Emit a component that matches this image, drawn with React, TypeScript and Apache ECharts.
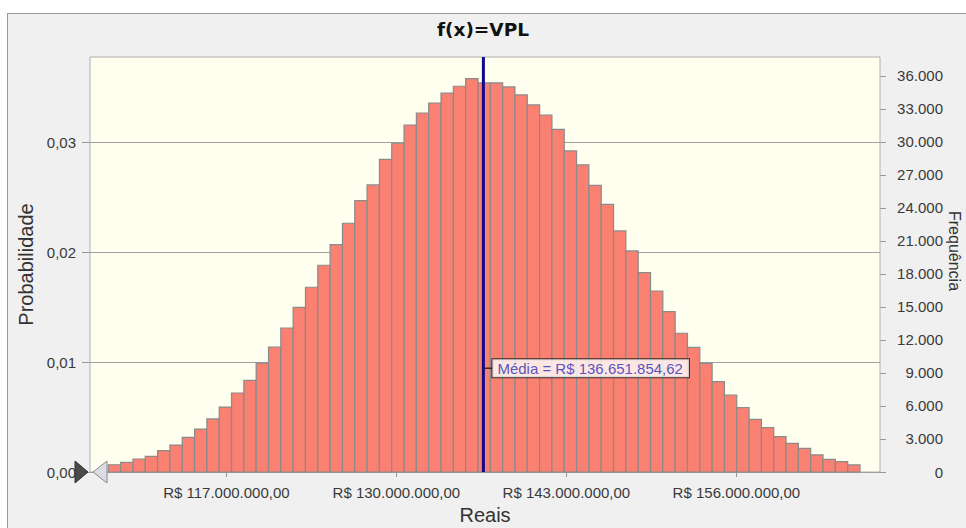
import React, { useEffect, useRef } from "react";
import * as echarts from "echarts";

// ---- Data ----
const binStart = 107.97e6; // left edge of the first bin (R$)
const binWidth = 0.9423e6; // width of each bin (R$)
const frequencies = [
  660, 870, 1180, 1420, 1940, 2450, 3150, 3900, 4820, 5900,
  7180, 8330, 9900, 11360, 13090, 14970, 16790, 18790, 20660, 22610,
  24660, 26090, 28420, 29880, 31540, 32630, 33540, 34430, 35060, 35760,
  35360, 35360, 35000, 34270, 33360, 32450, 31150, 29180, 27910, 26060,
  24330, 21910, 20090, 18120, 16450, 14580, 12610, 11330, 9880, 8210,
  7000, 5850, 4790, 4030, 3210, 2610, 2150, 1550, 1150, 940,
  640,
];
const meanValue = 136651854.62;
const meanLabel = "Média = R$ 136.651.854,62";
const xTickValues = [117e6, 130e6, 143e6, 156e6];
const probTicks = [0, 0.01, 0.02, 0.03];
const freqTicks = [0, 3000, 6000, 9000, 12000, 15000, 18000, 21000, 24000, 27000, 30000, 33000, 36000];
const xMin = 106.57e6;
const xMax = 166.98e6;
const probMax = 0.0378;
const freqMax = 37720;

const FONT = "'Liberation Sans', Arial, sans-serif";

function thousands(n: number): string {
  return Math.round(n).toString().replace(/\B(?=(\d{3})+(?!\d))/g, ".");
}

export default function App() {
  const ref = useRef<HTMLDivElement>(null);

  useEffect(() => {
    if (!ref.current) return;
    const chart = echarts.init(ref.current, undefined, { renderer: "svg" });

    const bins = frequencies.map((f, i) => [
      binStart + i * binWidth,
      binStart + (i + 1) * binWidth,
      f,
    ]);

    const option: any = {
      animation: false,
      backgroundColor: "transparent",
      title: {
        text: "f(x)=VPL",
        left: "center",
        top: 15,
        textStyle: {
          fontFamily: "'DejaVu Sans', sans-serif",
          fontWeight: "bold",
          fontSize: 18.5,
          color: "#111",
        },
      },
      grid: {
        left: 90,
        right: 86,
        top: 57,
        bottom: 56,
        outerBoundsMode: "none",
        containLabel: false,
        show: true,
        backgroundColor: "#FFFFF0",
        borderColor: "#b0b0b0",
        borderWidth: 1,
      },
      xAxis: {
        type: "value",
        min: xMin,
        max: xMax,
        name: "Reais",
        nameLocation: "middle",
        nameGap: 30,
        nameTextStyle: { fontFamily: FONT, fontSize: 20, color: "#333" },
        axisLine: { show: false },
        splitLine: { show: false },
        axisTick: {
          show: true,
          customValues: xTickValues,
          length: 5,
          lineStyle: { color: "#999" },
        },
        axisLabel: {
          customValues: xTickValues,
          margin: 13,
          fontFamily: FONT,
          fontSize: 15,
          color: "#3a3a3a",
          formatter: (v: number) => "R$ " + thousands(v) + ",00",
        },
      },
      yAxis: [
        {
          type: "value",
          min: 0,
          max: probMax,
          interval: 0.01,
          position: "left",
          name: "Probabilidade",
          nameLocation: "middle",
          nameGap: 53,
          nameTextStyle: { fontFamily: FONT, fontSize: 20, color: "#333" },
          axisLine: { show: false },
          axisTick: {
            show: true,
            customValues: probTicks,
            length: 8,
            lineStyle: { color: "#999" },
          },
          splitLine: { show: true, lineStyle: { color: "#a0a0a0", width: 1 } },
          axisLabel: {
            customValues: probTicks,
            margin: 14,
            fontFamily: FONT,
            fontSize: 15,
            color: "#3a3a3a",
            formatter: (v: number) => v.toFixed(2).replace(".", ","),
          },
        },
        {
          type: "value",
          min: 0,
          max: freqMax,
          interval: 3000,
          position: "right",
          axisLine: { show: false },
          splitLine: { show: false },
          axisTick: {
            show: true,
            customValues: freqTicks,
            length: 6,
            lineStyle: { color: "#999" },
          },
          axisLabel: {
            customValues: freqTicks,
            margin: 63,
            align: "right",
            fontFamily: FONT,
            fontSize: 15,
            color: "#3a3a3a",
            formatter: (v: number) => thousands(v),
          },
        },
      ],
      series: [
        {
          type: "custom",
          name: "Frequência",
          xAxisIndex: 0,
          yAxisIndex: 1,
          encode: { x: [0, 1], y: 2 },
          data: bins,
          renderItem: (params: any, api: any) => {
            const p0 = api.coord([api.value(0), api.value(2)]);
            const p1 = api.coord([api.value(1), 0]);
            return {
              type: "rect",
              shape: {
                x: p0[0],
                y: p0[1],
                width: p1[0] - p0[0],
                height: p1[1] - p0[1],
              },
              style: { fill: "#FA8072", stroke: "#8a8a8a", lineWidth: 1.2 },
            };
          },
          z: 2,
        },
        {
          type: "line",
          name: "Média",
          xAxisIndex: 0,
          yAxisIndex: 1,
          data: [
            [meanValue, 0],
            [meanValue, freqMax],
          ],
          symbol: "none",
          lineStyle: { color: "#0b0b8c", width: 3 },
          z: 5,
        },
        {
          type: "scatter",
          name: "Média label",
          xAxisIndex: 0,
          yAxisIndex: 1,
          data: [[meanValue, freqMax * 0.25]],
          symbol: "rect",
          symbolSize: [8, 1.5],
          symbolOffset: [5, 0],
          itemStyle: { color: "#111" },
          label: {
            show: true,
            formatter: meanLabel,
            position: "right",
            distance: 0,
            fontFamily: FONT,
            fontSize: 15,
            color: "#2c2cb0",
            backgroundColor: "#ffffff",
            borderColor: "#111",
            borderWidth: 1,
            padding: [2, 6, 1, 5],
          },
          z: 6,
        },
      ],
      graphic: [
        {
          type: "text",
          x: 954,
          y: 251,
          rotation: -Math.PI / 2,
          style: {
            text: "Frequência",
            fontFamily: FONT,
            fontSize: 16,
            fill: "#333",
            align: "center",
            verticalAlign: "middle",
          },
          z: 100,
        },
        {
          type: "polygon",
          shape: { points: [[75, 461], [88, 472], [75, 483]] },
          style: { fill: "#4a4a4a", stroke: "#333", lineWidth: 1 },
          z: 100,
        },
        {
          type: "polygon",
          shape: { points: [[107, 461], [93, 472], [107, 483]] },
          style: { fill: "#dcdce4", stroke: "#8a8a8a", lineWidth: 1 },
          z: 100,
        },
      ],
    };

    chart.setOption(option);
    return () => chart.dispose();
  }, []);

  return (
    <div
      style={{
        position: "fixed",
        left: 0,
        top: 0,
        width: 966,
        height: 528,
        background: "#ffffff",
        overflow: "hidden",
      }}
    >
      <div
        style={{
          position: "absolute",
          left: 7,
          top: 13,
          width: 980,
          height: 540,
          background: "#F0F0F0",
          borderLeft: "1px solid #999",
          borderTop: "1px solid #999",
        }}
      />
      <div
        ref={ref}
        style={{ position: "absolute", left: 0, top: 0, width: 966, height: 528 }}
      />
    </div>
  );
}
